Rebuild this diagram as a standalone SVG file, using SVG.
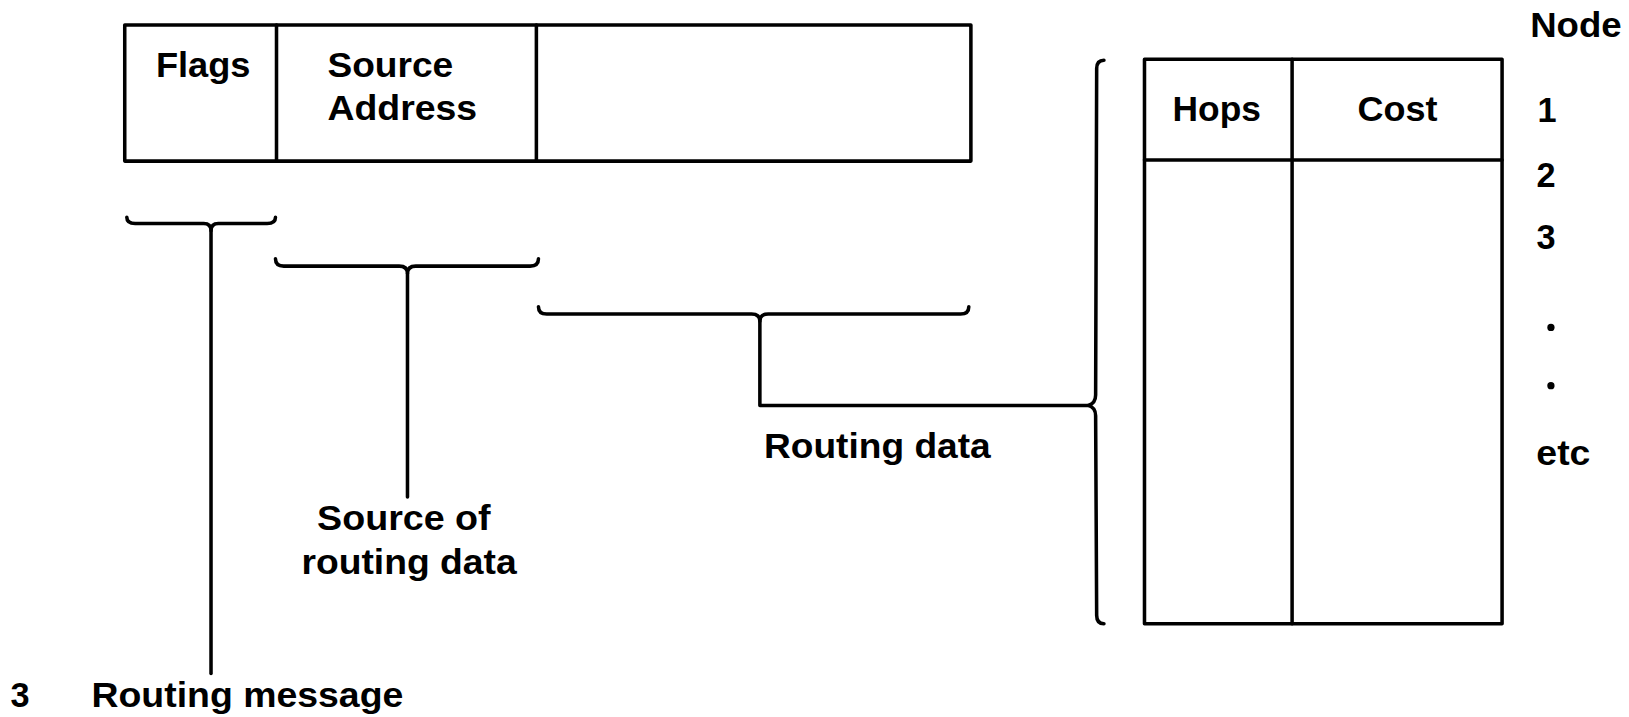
<svg xmlns="http://www.w3.org/2000/svg" width="1629" height="717" viewBox="0 0 1629 717">
<style>
.ln{fill:none;stroke:#000;stroke-width:3.4;stroke-linejoin:round;stroke-linecap:round}
.t{font-family:"Liberation Sans",Arial,sans-serif;font-weight:bold;font-size:33px;fill:#000}
</style>
<rect width="1629" height="717" fill="#fff"/>
<g transform="scale(1.0395)">
<g id="message">
<rect class="ln" x="120" y="24" width="814" height="131"/>
<line class="ln" x1="266" y1="24" x2="266" y2="155"/>
<line class="ln" x1="516" y1="24" x2="516" y2="155"/>
<text class="t" x="150" y="74" textLength="91" lengthAdjust="spacingAndGlyphs">Flags</text>
<text class="t" x="315" y="74" textLength="121" lengthAdjust="spacingAndGlyphs">Source</text>
<text class="t" x="315" y="115" textLength="144" lengthAdjust="spacingAndGlyphs">Address</text>
</g>
<g id="table">
<rect class="ln" x="1101" y="57" width="344" height="543"/>
<line class="ln" x1="1243" y1="57" x2="1243" y2="600"/>
<line class="ln" x1="1101" y1="154" x2="1445" y2="154"/>
<text class="t" x="1128" y="116" textLength="85" lengthAdjust="spacingAndGlyphs">Hops</text>
<text class="t" x="1306" y="116" textLength="77" lengthAdjust="spacingAndGlyphs">Cost</text>
</g>
<g id="node-labels">
<text class="t" x="1472" y="36" textLength="88" lengthAdjust="spacingAndGlyphs">Node</text>
<text class="t" x="1479" y="117">1</text>
<text class="t" x="1478" y="180">2</text>
<text class="t" x="1478" y="240">3</text>
<circle cx="1492" cy="315" r="3.5" fill="#000"/>
<circle cx="1492" cy="371" r="3.5" fill="#000"/>
<text class="t" x="1478" y="447" textLength="52" lengthAdjust="spacingAndGlyphs">etc</text>
</g>
<g id="connectors">
<path class="ln" d="M122,209 Q122,215 130,215 L196,215 Q203,215 203,222 Q203,215 210,215 L257,215 Q265,215 265,209"/>
<line class="ln" x1="203" y1="222" x2="203" y2="648"/>
<path class="ln" d="M265,249 Q265,256 273,256 L384,256 Q392,256 392,263 Q392,256 400,256 L510,256 Q518,256 518,249"/>
<line class="ln" x1="392" y1="263" x2="392" y2="478"/>
<path class="ln" d="M518,295 Q518,302 526,302 L723,302 Q731,302 731,309 Q731,302 739,302 L924,302 Q932,302 932,295"/>
<polyline class="ln" points="731,309 731,390 1047,390"/>
<path class="ln" d="M1062,58 Q1055,58 1055,66 L1054,380 Q1054,388 1047,390 Q1054,392 1054,400 L1055,592 Q1055,600 1062,600"/>
</g>
<g id="labels">
<text class="t" x="735" y="441" textLength="218" lengthAdjust="spacingAndGlyphs">Routing data</text>
<text class="t" x="305" y="510" textLength="167" lengthAdjust="spacingAndGlyphs">Source of</text>
<text class="t" x="290" y="552" textLength="207" lengthAdjust="spacingAndGlyphs">routing data</text>
<text class="t" x="10" y="680">3</text>
<text class="t" x="88" y="680" textLength="300" lengthAdjust="spacingAndGlyphs">Routing message</text>
</g>
</g>
</svg>
